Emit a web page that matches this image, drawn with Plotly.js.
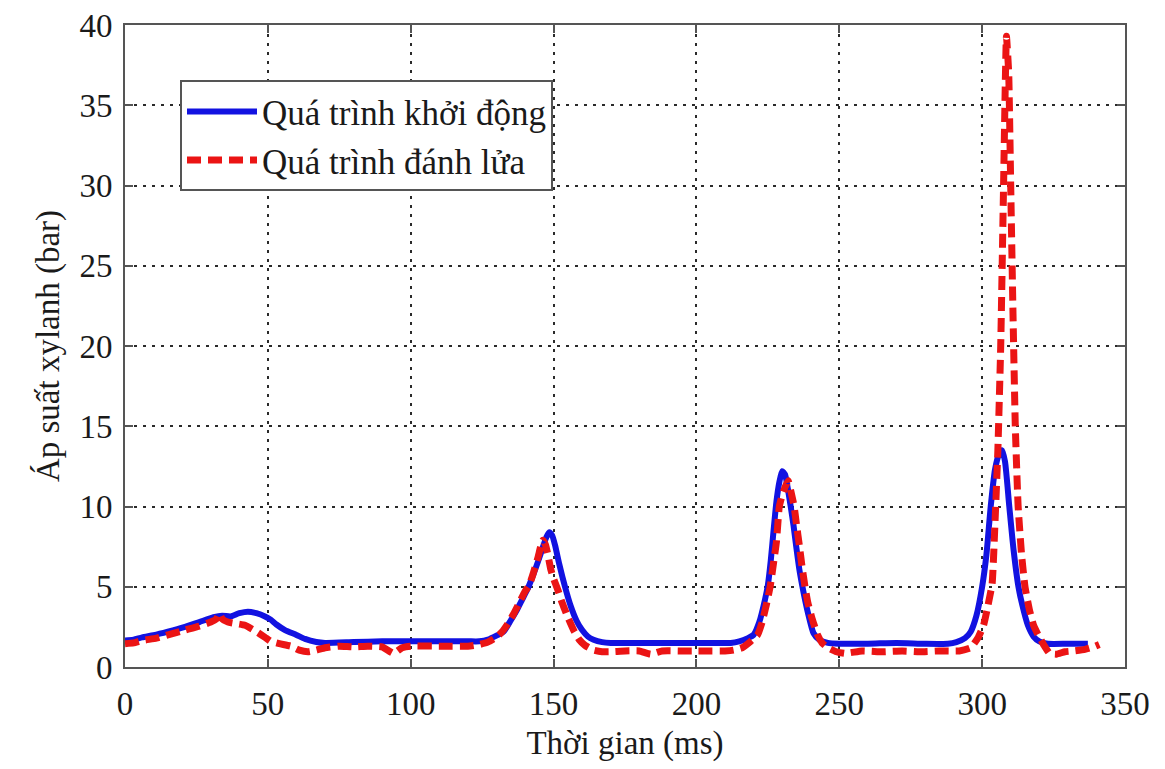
<!DOCTYPE html>
<html>
<head>
<meta charset="utf-8">
<script src="https://cdn.plot.ly/plotly-3.0.1.min.js"></script>
<style>
  html, body { margin: 0; padding: 0; background: #ffffff; }
  #chart { width: 1165px; height: 769px; }
</style>
</head>
<body>
<div id="chart"></div>
<script>
// Series names
const seriesNames = ["Quá trình khởi động", "Quá trình đánh lửa"];

// Start-up process (blue, solid)
const startTime = [0, 3, 6, 10, 15, 21, 26, 31, 34, 37, 40, 43, 46, 49, 51, 53, 56, 60, 63, 67, 70, 80, 90, 100, 110, 120, 124, 127, 130, 132.5, 135, 137, 139, 141, 143, 145, 146.5, 147.5, 148.5, 149.5, 150.5, 152, 154, 156, 158, 160, 162, 164, 167, 170, 180, 190, 200, 208, 212, 215, 218, 220, 222, 224, 225, 226, 227, 228, 229, 230, 231, 232, 233, 234, 235, 236, 237, 238, 239, 241, 243, 246, 250, 260, 270, 280, 288, 291, 294, 296, 298, 300, 301.5, 303, 304.5, 306, 307, 308, 309.5, 311, 312.7, 314, 316, 318, 320, 323, 330, 337];
const startPressure = [1.65, 1.7, 1.85, 1.98, 2.2, 2.5, 2.8, 3.1, 3.2, 3.15, 3.35, 3.45, 3.35, 3.15, 2.95, 2.65, 2.3, 2.0, 1.75, 1.56, 1.5, 1.55, 1.6, 1.6, 1.6, 1.6, 1.6, 1.7, 1.95, 2.2, 2.9, 3.5, 4.2, 4.9, 5.8, 6.8, 7.6, 8.1, 8.4, 8.2, 7.6, 6.4, 5.0, 3.8, 2.9, 2.3, 1.9, 1.7, 1.55, 1.5, 1.5, 1.5, 1.5, 1.5, 1.5, 1.6, 1.8, 2.0, 2.8, 4.2, 5.1, 6.6, 8.5, 10.3, 11.5, 12.2, 12.0, 11.1, 10.0, 8.8, 7.4, 6.1, 5.1, 4.2, 3.4, 2.1, 1.7, 1.5, 1.45, 1.45, 1.5, 1.45, 1.45, 1.55, 1.8, 2.2, 3.2, 5.0, 7.0, 10.0, 12.3, 13.3, 13.5, 12.8, 10.0, 7.3, 5.0, 3.9, 2.6, 1.9, 1.6, 1.45, 1.45, 1.45];

// Ignition process (red, dashed)
const ignTime = [0, 3, 6, 11, 16, 21, 26, 30, 32, 33, 34, 36, 39, 42, 46, 49, 51, 54, 58, 61, 64, 67, 70, 75, 80, 85, 90, 94, 97, 100, 110, 120, 124, 127, 130, 132, 134, 136, 138, 140, 141.5, 143, 144.5, 145.5, 146.3, 147.2, 148, 149, 150, 151.5, 153, 155, 157, 159, 161, 164, 167, 170, 175, 180, 184, 188, 195, 200, 205, 210, 213, 216, 219, 221.4, 223, 224.5, 225.8, 227, 228, 229, 230, 231, 232.1, 233, 234.2, 235, 236, 237, 238, 239, 240.5, 242.4, 244, 246, 249, 252, 258, 265, 272, 278, 285, 292, 296, 298.5, 300.5, 302, 303.5, 304.5, 305.5, 306.5, 307.5, 308.5, 309.3, 310, 310.8, 311.6, 312.6, 313.8, 315, 316.5, 318, 319.6, 321.5, 323.6, 326, 329, 332, 336, 339, 341];
const ignPressure = [1.45, 1.5, 1.65, 1.8, 2.05, 2.3, 2.55, 2.8, 3.0, 3.35, 3.0, 2.8, 2.7, 2.6, 2.2, 1.85, 1.6, 1.45, 1.3, 1.05, 0.95, 1.05, 1.2, 1.3, 1.25, 1.3, 1.25, 0.85, 1.2, 1.3, 1.3, 1.3, 1.4, 1.55, 1.85, 2.2, 2.7, 3.3, 4.0, 4.7, 5.1, 5.9, 6.8, 7.5, 7.9, 7.6, 7.0, 6.1, 5.5, 4.8, 4.0, 3.1, 2.3, 1.7, 1.35, 1.05, 0.95, 0.95, 1.0, 1.0, 0.8, 1.0, 1.0, 1.0, 1.0, 1.0, 1.05, 1.2, 1.6, 2.0, 2.8, 3.9, 5.0, 6.5, 7.8, 10.0, 10.7, 11.2, 11.6, 11.0, 10.0, 8.9, 7.6, 6.2, 5.0, 4.0, 3.0, 2.0, 1.5, 1.2, 0.95, 0.85, 1.0, 0.95, 1.0, 0.95, 1.0, 1.0, 1.2, 1.8, 2.6, 3.8, 5.2, 9.0, 13.5, 20, 30, 39.3, 37, 30, 22, 15, 10, 7.0, 5.0, 3.6, 2.6, 2.0, 1.4, 0.85, 0.8, 0.95, 1.0, 1.1, 1.25, 1.4];

// Axis labels
const xTitle = "Thời gian (ms)";
const yTitle = "Áp suất xylanh (bar)";
const xTicks = [0, 50, 100, 150, 200, 250, 300, 350];
const yTicks = [0, 5, 10, 15, 20, 25, 30, 35, 40];

const FONT = "'Liberation Serif', 'Times New Roman', serif";

const traces = [
  {
    x: startTime, y: startPressure, name: seriesNames[0],
    type: "scatter", mode: "lines",
    line: { color: "rgb(18,18,225)", width: 6, shape: "spline", smoothing: 0.6 }
  },
  {
    x: ignTime, y: ignPressure, name: seriesNames[1],
    type: "scatter", mode: "lines",
    line: { color: "rgb(235,20,20)", width: 7, dash: "14px,7px", shape: "spline", smoothing: 0.4 }
  }
];

const axisCommon = {
  showgrid: true,
  gridcolor: "#2a2a2a",
  griddash: "3px,6px",
  gridwidth: 2,
  showline: true,
  linecolor: "#555555",
  linewidth: 2,
  mirror: "ticks",
  ticks: "inside",
  ticklen: 8,
  tickwidth: 2,
  tickcolor: "#555555",
  zeroline: false,
  tickfont: { family: FONT, size: 33, color: "#1a1a1a" }
};

const layout = {
  width: 1165,
  height: 769,
  paper_bgcolor: "#ffffff",
  plot_bgcolor: "#ffffff",
  margin: { l: 125, r: 40, t: 25, b: 102 },
  showlegend: true,
  font: { family: FONT, size: 33, color: "#1a1a1a" },
  xaxis: Object.assign({}, axisCommon, {
    range: [0, 350],
    tickvals: xTicks,
    ticktext: xTicks.map(String),
    ticklabelstandoff: 6,
    title: { text: xTitle, font: { family: FONT, size: 33, color: "#1a1a1a" }, standoff: 10 }
  }),
  yaxis: Object.assign({}, axisCommon, {
    range: [0, 40],
    tickvals: yTicks,
    ticktext: yTicks.map(String),
    ticklabelstandoff: 4,
    title: { text: yTitle, font: { family: FONT, size: 33, color: "#1a1a1a" }, standoff: 10 }
  }),
  legend: {
    x: 0.055, y: 0.914, xanchor: "left", yanchor: "top",
    bgcolor: "#ffffff",
    bordercolor: "#555555",
    borderwidth: 2,
    itemwidth: 70,
    font: { family: FONT, size: 35, color: "#1a1a1a" }
  }
};

Plotly.newPlot("chart", traces, layout, { displayModeBar: false, staticPlot: true });
</script>
</body>
</html>
